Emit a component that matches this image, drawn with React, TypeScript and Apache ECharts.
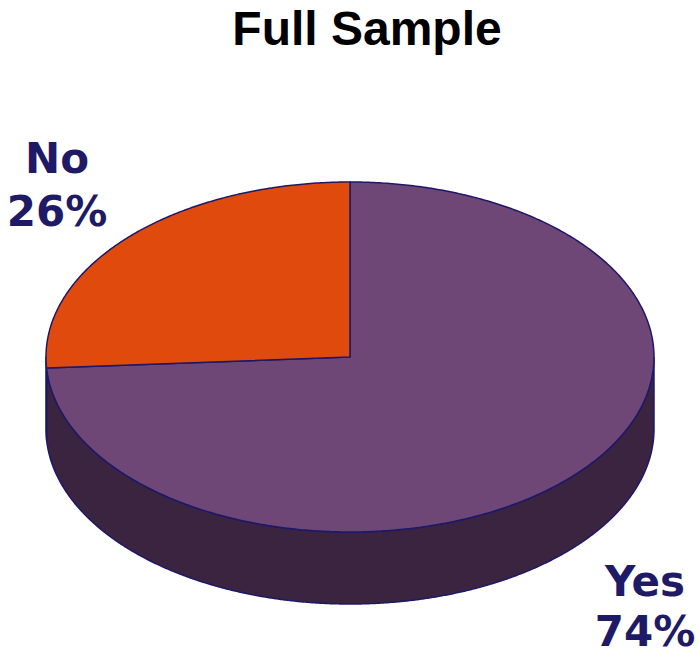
import React, { useEffect, useRef } from "react";
import * as echarts from "echarts";

const titleText = "Full Sample";
const categories = ["Yes", "No"];
const values = [74, 26];

const topColors = ["#6E4777", "#E04B0D"];
const sideColors = ["#3A2440", "#3A2440"];
const outline = "#1E1869";
const labelColor = "#1F1A66";

const CX = 350;
const CY = 357;
const RX = 304;
const RY = 175;
const DEPTH = 72;

const total = values.reduce((a, b) => a + b, 0);

function sliceAngles(idx: number) {
  let start = 90;
  for (let i = 0; i < idx; i++) start -= (values[i] / total) * 360;
  const end = start - (values[idx] / total) * 360;
  return [start, end];
}

function pt(deg: number, dy = 0) {
  const r = (deg * Math.PI) / 180;
  return [CX + RX * Math.cos(r), CY - RY * Math.sin(r) + dy];
}

function arcPoints(a1: number, a2: number) {
  const pts: number[][] = [];
  const n = Math.max(2, Math.ceil(Math.abs(a1 - a2) / 0.5));
  for (let k = 0; k <= n; k++) pts.push(pt(a1 + ((a2 - a1) * k) / n));
  return pts;
}

const labelPos = [
  { x: 645, y1: 581, y2: 631 },
  { x: 57, y1: 158, y2: 211 },
];

export default function App() {
  const ref = useRef<HTMLDivElement>(null);
  useEffect(() => {
    if (!ref.current) return;
    const chart = echarts.init(ref.current, null, { renderer: "svg" });
    const data = categories.map((c, i) => ({ name: c, value: [values[i], i] }));
    const labelStyle = {
      fill: labelColor,
      fontFamily: "DejaVu Sans, Verdana, sans-serif",
      fontWeight: "bold",
      fontSize: 42,
      lineHeight: 42,
      align: "center",
      verticalAlign: "middle",
    };
    chart.setOption({
      animation: false,
      title: {
        text: titleText,
        left: 362,
        top: -1,
        textAlign: "center",
        textStyle: {
          fontFamily: "Liberation Sans, Arial, sans-serif",
          fontWeight: "bold",
          fontSize: 48,
          color: "#000",
        },
      },
      xAxis: { show: false },
      yAxis: { show: false },
      series: [
        {
          type: "custom",
          coordinateSystem: "none",
          z: 1,
          data,
          renderItem: (params: any, api: any) => {
            const idx = params.dataIndex;
            const [s, e] = sliceAngles(idx);
            const n = Math.max(2, Math.ceil(Math.abs(s - e) / 0.25));
            const run: number[] = [];
            for (let k = 0; k <= n; k++) {
              const a = s + ((e - s) * k) / n;
              if (Math.sin((a * Math.PI) / 180) <= 1e-9) run.push(a);
            }
            if (run.length < 2) return { type: "group", children: [] };
            const top = run.map((a) => pt(a));
            const bot = run.map((a) => pt(a, DEPTH)).reverse();
            return {
              type: "polygon",
              shape: { points: top.concat(bot) },
              style: { fill: sideColors[idx], stroke: outline, lineWidth: 1.5, lineJoin: "round" },
            };
          },
        },
        {
          type: "custom",
          coordinateSystem: "none",
          z: 2,
          data,
          renderItem: (params: any, api: any) => {
            const idx = params.dataIndex;
            const v = api.value(0);
            const [s, e] = sliceAngles(idx);
            const pts = [[CX, CY]].concat(arcPoints(s, e));
            const pct = Math.round((v / total) * 100) + "%";
            return {
              type: "group",
              children: [
                {
                  type: "polygon",
                  shape: { points: pts },
                  style: { fill: topColors[idx], stroke: outline, lineWidth: 1.5, lineJoin: "round" },
                },
                {
                  type: "text",
                  x: labelPos[idx].x,
                  y: labelPos[idx].y1,
                  style: { ...labelStyle, text: categories[idx] },
                },
                {
                  type: "text",
                  x: labelPos[idx].x,
                  y: labelPos[idx].y2,
                  style: { ...labelStyle, text: pct },
                },
              ],
            };
          },
        },
      ],
    });
    return () => chart.dispose();
  }, []);
  return (
    <div
      ref={ref}
      style={{ position: "fixed", left: 0, top: 0, width: 699, height: 655, background: "#fff" }}
    />
  );
}
